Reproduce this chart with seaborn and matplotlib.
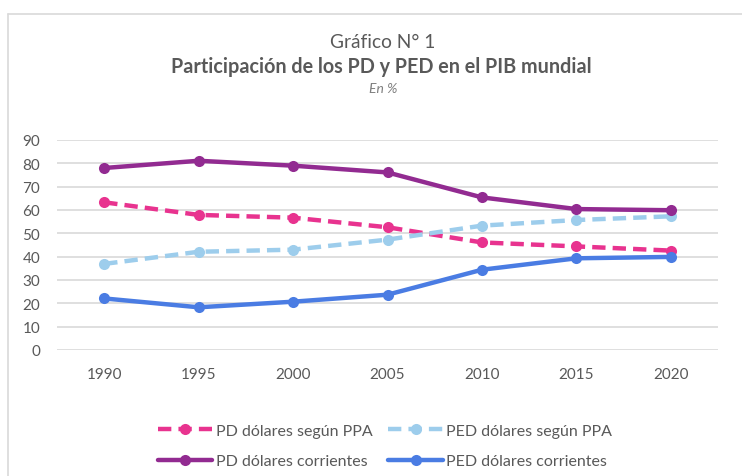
import pandas as pd
import matplotlib.pyplot as plt
import seaborn as sns
from matplotlib.lines import Line2D

years = [1990, 1995, 2000, 2005, 2010, 2015, 2020]
pd_ppa = [63.3, 57.9, 56.7, 52.6, 46.1, 44.4, 42.6]
ped_ppa = [36.9, 42.1, 43.0, 47.3, 53.3, 55.7, 57.3]
pd_corr = [78.0, 81.1, 79.0, 76.1, 65.4, 60.4, 59.9]
ped_corr = [22.1, 18.3, 20.7, 23.7, 34.4, 39.3, 39.9]

names = ["PD dólares según PPA", "PED dólares según PPA",
         "PD dólares corrientes", "PED dólares corrientes"]
series = [pd_ppa, ped_ppa, pd_corr, ped_corr]

rows = []
for name, vals in zip(names, series):
    for y, v in zip(years, vals):
        rows.append({"year": y, "value": v, "serie": name})
df = pd.DataFrame(rows)

palette = {names[0]: "#E8338F", names[1]: "#9DCDEC",
           names[2]: "#922B91", names[3]: "#4A7CE3"}
dashes = {names[0]: (3, 1.6), names[1]: (3, 1.6), names[2]: "", names[3]: ""}

sns.set_style("white")
plt.rcParams["font.family"] = ["Lato", "DejaVu Sans"]
gray = "#595959"

fig = plt.figure(figsize=(7.42, 4.77), dpi=100)
ax = fig.add_axes([57 / 742, 1 - 351 / 477, 661 / 742, 210 / 477])

sns.lineplot(data=df, x="year", y="value", hue="serie", style="serie",
             palette=palette, dashes=dashes, markers={n: "o" for n in names},
             markersize=8, linewidth=3.2, markeredgewidth=0, ax=ax,
             legend=False)

ax.set_xlim(1987.5, 2022.5)
ax.set_ylim(0, 90)
ax.set_xticks(years)
ax.set_xticklabels([str(y) for y in years])
ax.set_yticks(range(0, 91, 10))
ax.set_xlabel("")
ax.set_ylabel("")
ax.grid(axis="y", color="#D9D9D9", linewidth=1.2)
ax.set_axisbelow(True)
for s in ax.spines.values():
    s.set_visible(False)
ax.tick_params(axis="both", length=0, labelsize=11, labelcolor=gray)
ax.tick_params(axis="x", pad=12)
ax.tick_params(axis="y", pad=12)

# legend
handles = []
for n in names:
    handles.append(Line2D([0], [0], color=palette[n], lw=3.2, marker="o",
                          markersize=8, markeredgewidth=0,
                          dashes=dashes[n] if dashes[n] else (None, None)))
order = [0, 2, 1, 3]
leg = fig.legend([handles[i] for i in order], [names[i] for i in order],
                 ncol=2, loc="center", bbox_to_anchor=(385 / 742, 1 - 447 / 477),
                 frameon=False, fontsize=11.5, handlelength=3.4,
                 columnspacing=1.0, labelspacing=1.0, handletextpad=0.2)
for t in leg.get_texts():
    t.set_color(gray)

# titles
fig.text(383 / 742, 1 - 42 / 477, "Gráfico N° 1", ha="center", va="center",
         fontsize=13.8, color=gray)
fig.text(381 / 742, 1 - 67 / 477, "Participación de los PD y PED en el PIB mundial",
         ha="center", va="center", fontsize=14.2, fontweight="bold", color=gray)
fig.text(383 / 742, 1 - 89 / 477, "En %", ha="center", va="center",
         fontsize=10, style="italic", color="#7F7F7F")

# chart border
fig.add_artist(Line2D([8 / 742, 1], [1 - 15 / 477, 1 - 15 / 477],
                      color="#D9D9D9", lw=1.2, transform=fig.transFigure))
fig.add_artist(Line2D([8 / 742, 8 / 742], [0, 1 - 15 / 477],
                      color="#D9D9D9", lw=1.2, transform=fig.transFigure))

fig.savefig("out.png", dpi=100)
